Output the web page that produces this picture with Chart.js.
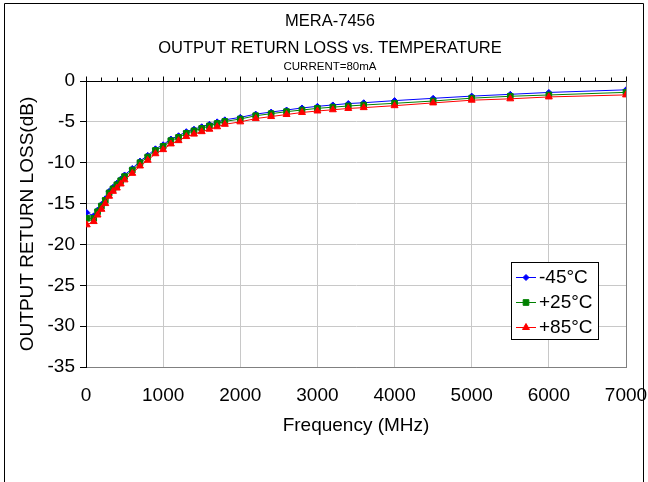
<!DOCTYPE html>
<html>
<head>
<meta charset="utf-8">
<script src="https://cdn.jsdelivr.net/npm/chart.js@4.4.0/dist/chart.umd.min.js"></script>
<style>
  html, body { margin: 0; padding: 0; background: #fff; }
</style>
</head>
<body>
<canvas id="chart" width="648" height="482"></canvas>
<script>
// Frequency points (MHz)
const freq = [10, 100, 150, 200, 250, 300, 350, 400, 450, 500, 600, 700, 800, 900, 1000, 1100, 1200, 1300, 1400, 1500,
  1600, 1700, 1800, 2000, 2200, 2400, 2600, 2800, 3000, 3200, 3400, 3600, 4000, 4500, 5000, 5500, 6000, 7000];

// Output return loss (dB) for each temperature
const rlMinus45 = [-16.1, -16.5, -15.8, -15.1, -14.4, -13.5, -13.0, -12.5, -12.0, -11.5, -10.7, -9.8, -9.1, -8.3, -7.8, -7.1, -6.7, -6.2, -5.9, -5.6,
  -5.3, -5.0, -4.75, -4.45, -4.05, -3.8, -3.55, -3.3, -3.1, -2.93, -2.76, -2.66, -2.4, -2.12, -1.85, -1.63, -1.4, -1.08];
const rlPlus25 = [-16.8, -16.8, -16.0, -15.3, -14.6, -13.7, -13.2, -12.7, -12.2, -11.7, -10.9, -10.0, -9.3, -8.5, -8.0, -7.3, -6.9, -6.4, -6.1, -5.8,
  -5.5, -5.2, -4.95, -4.65, -4.25, -4.0, -3.75, -3.55, -3.35, -3.2, -3.06, -2.94, -2.73, -2.45, -2.1, -1.87, -1.71, -1.39];
const rlPlus85 = [-17.6, -17.2, -16.4, -15.7, -15.0, -14.1, -13.5, -13.1, -12.6, -12.1, -11.3, -10.4, -9.7, -8.9, -8.4, -7.7, -7.3, -6.8, -6.5, -6.2,
  -5.9, -5.6, -5.3, -5.0, -4.6, -4.35, -4.1, -3.85, -3.67, -3.52, -3.36, -3.26, -3.02, -2.68, -2.35, -2.18, -1.95, -1.7];

const seriesNames = ['-45°C', '+25°C', '+85°C'];
const xTickStep = 1000, xMinorStep = 200, xMin = 0, xMax = 7000;
const yTickStep = 5, yMin = -35, yMax = 0;

const FONT = 'Arial, "Liberation Sans", sans-serif';

function pts(arr) {
  return freq.map((f, i) => ({ x: f, y: arr[i] }));
}

// frame, title lines, top axis with tick marks, legend box
const decor = {
  id: 'decor',
  afterDraw(chart) {
    const ctx = chart.ctx;
    const area = chart.chartArea;
    const xs = chart.scales.x;
    ctx.save();
    // outer frame
    ctx.strokeStyle = '#000';
    ctx.lineWidth = 1;
    ctx.beginPath();
    ctx.moveTo(4.5, 490); ctx.lineTo(4.5, 3.5); ctx.lineTo(643.5, 3.5); ctx.lineTo(643.5, 490);
    ctx.stroke();

    // titles
    ctx.fillStyle = '#000';
    ctx.textAlign = 'center';
    ctx.textBaseline = 'alphabetic';
    ctx.font = '16.5px ' + FONT;
    ctx.fillText('MERA-7456', 330, 25.5);
    ctx.fillText('OUTPUT RETURN LOSS vs. TEMPERATURE', 330, 52.5);
    ctx.font = '11.5px ' + FONT;
    ctx.fillText('CURRENT=80mA', 330, 69.5);

    // top axis line with upward ticks
    const yTop = Math.round(area.top) + 0.5;
    ctx.beginPath();
    ctx.moveTo(area.left, yTop); ctx.lineTo(area.right, yTop);
    for (let v = xMin; v <= xMax; v += xMinorStep) {
      const px = Math.round(xs.getPixelForValue(v)) + 0.5;
      const len = (v % xTickStep === 0) ? 5 : 4;
      ctx.moveTo(px, yTop); ctx.lineTo(px, yTop - len);
    }
    ctx.stroke();

    // legend
    const lx = 511.5, ly = 262.5, lw = 87, lh = 77;
    ctx.fillStyle = '#fff';
    ctx.fillRect(lx, ly, lw, lh);
    ctx.strokeStyle = '#000';
    ctx.strokeRect(lx, ly, lw, lh);
    chart.data.datasets.forEach((ds, i) => {
      const cy = 277 + i * 25;
      ctx.strokeStyle = ds.borderColor;
      ctx.lineWidth = 1;
      ctx.beginPath();
      ctx.moveTo(516, cy + 0.5); ctx.lineTo(536, cy + 0.5);
      ctx.stroke();
      ctx.fillStyle = ds.backgroundColor;
      Chart.helpers.drawPoint(ctx, {
        pointStyle: ds.pointStyle, radius: ds.pointRadius, borderWidth: 1, rotation: 0
      }, 526, cy + 0.5);
      ctx.fillStyle = '#000';
      ctx.font = '19px ' + FONT;
      ctx.textAlign = 'left';
      ctx.textBaseline = 'middle';
      ctx.fillText(ds.label, 539, cy + 1);
    });
    ctx.restore();
  }
};

const ctx = document.getElementById('chart').getContext('2d');
const chart = new Chart(ctx, {
  type: 'scatter',
  data: {
    datasets: [
      { label: seriesNames[0], data: pts(rlMinus45), borderColor: '#0000FF', backgroundColor: '#0000FF',
        pointStyle: 'rectRot', pointRadius: 3, order: 2 },
      { label: seriesNames[1], data: pts(rlPlus25), borderColor: '#008000', backgroundColor: '#008000',
        pointStyle: 'rect', pointRadius: 4, order: 1 },
      { label: seriesNames[2], data: pts(rlPlus85), borderColor: '#FF0000', backgroundColor: '#FF0000',
        pointStyle: 'triangle', pointRadius: 4, order: 0 }
    ].map(d => Object.assign(d, { showLine: true, borderWidth: 1, pointBorderWidth: 1, tension: 0, pointHoverRadius: d.pointRadius }))
  },
  options: {
    responsive: false,
    animation: false,
    devicePixelRatio: 1,
    layout: { padding: { top: 81, right: 22, left: 0, bottom: 0 } },
    plugins: {
      legend: { display: false },
      tooltip: { enabled: false },
      title: { display: false }
    },
    scales: {
      x: {
        type: 'linear',
        position: 'bottom',
        min: xMin, max: xMax,
        ticks: { stepSize: xTickStep, color: '#000', font: { family: FONT, size: 19 }, padding: 0, maxRotation: 0,
          callback: v => String(v) },
        grid: {
          color: c => (c.tick && c.tick.value === xMax) ? '#808080' : '#c8c8c8',
          drawTicks: true,
          tickLength: 17,
          tickColor: 'rgba(0,0,0,0)'
        },
        border: { color: '#808080', width: 1 },
        title: { display: true, text: 'Frequency (MHz)', color: '#000', font: { family: FONT, size: 19 }, padding: { top: 0, bottom: 45 } },
        afterFit: s => { s.height = 115; }
      },
      y: {
        type: 'linear',
        min: yMin, max: yMax,
        ticks: { stepSize: yTickStep, color: '#000', font: { family: FONT, size: 19 }, padding: 5 },
        grid: {
          color: c => (c.tick && c.tick.value === yMin) ? '#808080' : '#c8c8c8',
          tickColor: '#000',
          tickLength: 6
        },
        border: { color: '#000', width: 1 },
        title: { display: true, text: 'OUTPUT RETURN LOSS(dB)', color: '#000', font: { family: FONT, size: 19 }, padding: { top: 16, bottom: 0 } },
        afterFit: s => { s.width = 86; }
      }
    }
  },
  plugins: [decor]
});
</script>
</body>
</html>
